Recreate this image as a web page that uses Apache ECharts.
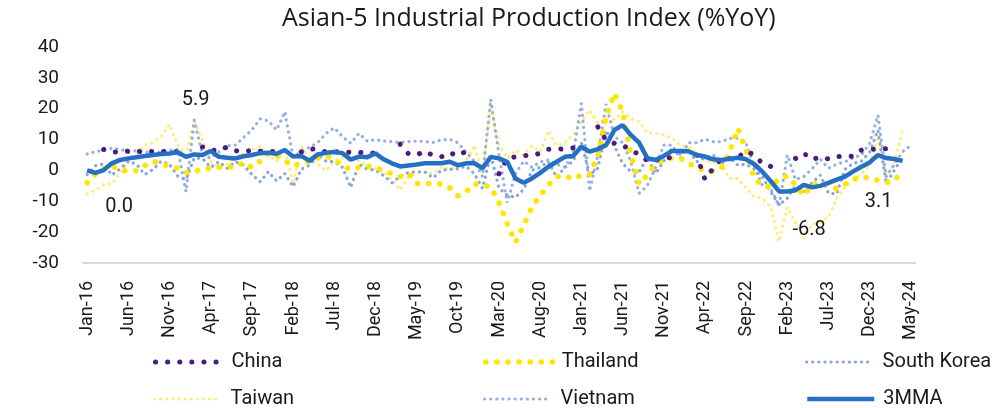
<!DOCTYPE html>
<html>
<head>
<meta charset="utf-8">
<title>Asian-5 Industrial Production Index</title>
<script src="https://cdn.jsdelivr.net/npm/echarts@6/dist/echarts.min.js"></script>
<style>
  html, body { margin: 0; padding: 0; background: #fff; }
  #main { width: 1005px; height: 408px; }
</style>
</head>
<body>
<div id="main"></div>
<script>
// month labels Jan-16 .. May-24
const monthNames = ['Jan','Feb','Mar','Apr','May','Jun','Jul','Aug','Sep','Oct','Nov','Dec'];
const months = [];
for (let i = 0; i < 101; i++) {
    months.push(monthNames[i % 12] + '-' + (16 + Math.floor(i / 12)));
}

// %YoY
const china = [
    null,null,6.8,6.0,6.0,6.2,6.0,6.3,6.1,6.1,6.2,6.0,
    null,null,7.6,6.5,6.5,7.6,6.4,6.0,6.6,6.2,6.1,6.2,
    null,null,6.0,7.0,6.8,6.0,6.0,6.1,5.8,5.9,5.4,5.7,
    null,null,8.5,5.4,5.0,6.3,4.8,4.4,5.8,4.7,6.2,6.9,
    null,null,-1.1,3.9,4.4,4.8,4.8,5.6,6.9,6.9,7.0,7.3,
    null,null,14.1,9.8,8.8,8.3,6.4,5.3,3.1,3.5,3.8,4.3,
    null,null,5.0,-2.9,0.7,3.9,3.8,4.2,6.3,5.0,2.2,1.3,
    null,null,3.9,5.6,3.5,4.4,3.7,4.5,4.5,4.6,6.6,6.8,
    7.0,7.0,null,null,null
];
const thailand = [
    -4.0,-1.2,0.5,1.5,0.2,-0.3,-0.1,1.5,3.0,2.2,1.4,0.7,
    -0.7,-0.4,0.4,0.7,1.0,1.0,1.2,2.6,1.0,3.0,5.5,5.0,
    3.2,1.4,2.2,3.0,4.0,4.7,3.8,1.5,0.3,1.0,1.4,1.0,
    -0.2,-1.0,-2.0,-1.0,-4.2,-4.2,-4.3,-4.4,-5.6,-8.2,-6.9,-4.4,
    -4.8,-5.3,-10.5,-17.2,-23.3,-17.8,-11.8,-8.2,-4.7,-2.0,-1.7,-2.8,
    -1.5,-1.3,5.0,17.4,25.0,19.0,5.0,-4.4,-1.5,2.0,3.6,4.0,
    4.0,2.4,0.8,0.0,-0.3,0.8,6.0,13.6,6.5,-2.8,-4.9,-5.5,
    -2.5,-1.8,-4.7,-8.2,-4.5,-4.2,-4.5,-6.0,-4.5,-3.0,-2.0,-2.5,
    -3.2,-3.9,-3.4,0.3,null
];
const southKorea = [
    -1.3,1.5,2.1,-1.5,0.5,3.0,2.0,-1.3,0.3,3.0,2.0,-1.8,
    -3.0,4.0,3.9,1.0,2.8,0.7,2.8,1.7,-1.3,-3.7,-0.4,-3.4,
    -1.0,-5.3,0.4,1.7,5.0,3.0,2.8,1.0,-5.5,2.0,0.4,0.1,
    -1.7,-4.0,-2.0,-0.7,-0.4,-0.5,-2.4,0.1,0.3,0.5,1.4,-1.0,
    -5.8,5.0,-5.8,-8.0,-8.7,-6.1,0.0,1.0,2.8,-2.2,1.0,3.0,
    9.0,-1.5,0.7,13.0,8.0,2.3,-0.4,-0.5,4.2,-1.0,3.0,7.2,
    5.3,6.6,2.8,4.2,5.0,2.3,4.0,1.7,2.0,0.4,-2.2,-6.9,
    -11.2,-9.0,-5.0,-7.0,-4.0,-1.5,-7.4,-7.6,0.4,2.3,3.0,6.0,
    13.0,-4.2,0.1,4.5,null
];
const taiwan = [
    -7.6,-6.4,-4.7,-4.3,-1.0,2.8,5.5,8.2,9.0,11.0,14.9,8.2,
    5.0,16.0,9.9,3.0,1.0,2.0,4.0,5.5,6.5,7.9,5.0,3.0,
    7.2,-4.5,7.7,4.0,2.0,-0.1,3.0,4.0,5.0,3.0,1.7,0.5,
    -0.5,-3.0,-6.4,-2.0,-1.0,-0.5,-1.0,1.0,0.5,1.0,3.0,8.2,
    -1.0,21.0,8.2,4.0,6.6,5.0,8.0,6.0,12.9,8.0,9.0,11.5,
    15.8,19.6,15.3,17.0,16.5,19.0,16.9,15.8,12.2,12.0,11.5,10.5,
    8.2,7.5,6.0,3.0,2.8,2.0,-2.6,-2.6,-5.8,-8.5,-9.0,-12.0,
    -23.1,-12.0,-17.0,-22.0,-17.5,-17.0,-15.0,-9.0,-5.5,-3.1,-1.0,1.5,
    11.0,-2.0,2.5,13.1,null
];
const vietnam = [
    5.3,6.1,6.5,7.2,6.8,6.2,6.4,6.0,5.5,6.0,6.5,6.8,
    -6.9,16.3,5.0,4.0,6.0,8.0,8.2,10.7,13.1,16.7,16.1,13.1,
    19.0,4.5,6.0,7.5,9.0,12.0,13.8,11.0,8.8,12.0,9.5,10.0,
    9.5,9.3,9.1,9.3,9.5,9.3,9.1,9.9,10.1,9.0,6.0,3.0,
    -2.0,23.0,5.0,-10.5,-1.0,3.0,1.0,2.8,3.4,2.0,1.0,5.3,
    21.7,-6.7,5.0,21.5,11.0,9.0,3.0,-7.4,-5.0,1.0,8.2,8.2,
    3.9,9.0,9.0,10.1,9.3,9.3,10.4,10.4,8.8,1.0,-5.0,-6.0,
    -11.5,5.0,-3.0,-2.0,0.5,3.6,0.7,2.0,2.8,4.1,5.0,8.8,
    17.9,-2.0,2.0,6.0,8.2
];
const mma3 = [
    0.0,-0.8,0.1,2.3,3.4,3.9,4.3,4.7,5.0,5.3,5.5,5.9,
    4.4,5.2,5.0,6.3,4.4,4.1,3.9,4.6,5.0,5.6,5.7,5.4,
    6.6,4.5,4.7,3.1,5.2,5.7,6.0,5.6,3.5,4.5,4.3,5.5,
    3.6,2.3,1.3,1.6,1.9,2.3,2.3,2.3,2.8,1.7,2.3,2.4,
    0.7,4.4,3.9,2.8,-2.6,-4.0,-2.6,-0.8,1.2,2.8,4.4,4.7,
    7.7,6.1,6.9,8.2,13.1,14.7,11.5,9.0,4.0,3.4,4.7,6.3,
    6.3,6.2,5.0,4.5,3.6,3.4,3.8,4.1,3.6,2.0,-0.5,-3.5,
    -6.8,-6.8,-6.4,-4.7,-5.5,-5.0,-4.0,-3.0,-2.0,-0.3,1.2,2.6,
    5.0,4.0,3.7,3.1,null
];

// points of the 3MMA that carry a data label
const labelIdx = [0, 11, 84, 99];
const labelOffset = { 0: [32, 37], 11: [18, -52], 84: [30, 39], 99: [-24, 41] };

const chart = echarts.init(document.getElementById('main'));
const FONT = 'Roboto, "Noto Sans", sans-serif';

function dotted(name, data, color, width, gap, z) {
    return {
        name: name,
        type: 'line',
        data: data,
        symbol: 'none',
        z: z,
        lineStyle: { color: color, width: width, type: [0.1, gap], cap: 'round' },
        itemStyle: { color: color }
    };
}

// one legend per entry so the 3 x 2 grid sits where the original has it
function legendItem(name, left, top) {
    return {
        left: left,
        top: top,
        itemWidth: 67,
        itemHeight: 6,
        data: [name],
        itemStyle: { opacity: 0 },
        lineStyle: { width: 'inherit' },
        textStyle: { fontFamily: FONT, fontSize: 20, color: '#1a1a1a', padding: [0, 0, 0, 4] }
    };
}

const option = {
    animation: false,
    title: {
        text: 'Asian-5 Industrial Production Index (%YoY)',
        left: 277,
        top: 1,
        textStyle: { fontFamily: '"Open Sans", Roboto, sans-serif', fontSize: 25, fontWeight: 'normal', color: '#1a1a1a' }
    },
    legend: [
        legendItem('China', 148, 347),
        legendItem('Thailand', 478, 347),
        legendItem('South Korea', 800, 347),
        legendItem('Taiwan', 148, 384),
        legendItem('Vietnam', 478, 384),
        legendItem('3MMA', 800, 384)
    ],
    grid: { left: 83, right: 90, top: 47, bottom: 145 },
    xAxis: [{
        type: 'category',
        data: months,
        boundaryGap: true,
        axisLine: { show: false },
        axisTick: { show: false },
        axisLabel: {
            interval: 4,
            rotate: 90,
            margin: 18,
            fontFamily: FONT,
            fontSize: 18,
            color: '#1a1a1a'
        }
    }, {
        type: 'category',
        data: months,
        boundaryGap: true,
        position: 'bottom',
        axisLine: { onZero: true, lineStyle: { color: '#d9d9d9', width: 2 } },
        axisTick: { show: false },
        axisLabel: { show: false }
    }],
    yAxis: {
        type: 'value',
        min: -30,
        max: 40,
        interval: 10,
        axisLine: { show: false },
        axisTick: { show: false },
        splitLine: { show: false },
        axisLabel: { margin: 24, fontFamily: FONT, fontSize: 19, color: '#1a1a1a' }
    },
    series: [
        dotted('Taiwan', taiwan, '#FFEC7A', 3.2, 6, 2),
        dotted('Vietnam', vietnam, '#94B0E0', 3.2, 6, 2),
        dotted('South Korea', southKorea, '#86A5DA', 3.2, 6, 2),
        dotted('Thailand', thailand, '#FFE500', 5.5, 11, 3),
        dotted('China', china, '#4B1C7E', 5, 12, 3),
        {
            name: '3MMA',
            type: 'line',
            data: mma3,
            symbol: 'none',
            z: 5,
            lineStyle: { color: '#2570C5', width: 4.5 },
            itemStyle: { color: '#2570C5' },
            markPoint: {
                symbol: 'circle',
                symbolSize: 0,
                label: {
                    show: true,
                    position: 'inside',
                    fontFamily: FONT,
                    fontSize: 20,
                    color: '#1a1a1a',
                    formatter: p => p.value.toFixed(1)
                },
                data: labelIdx.map(i => ({
                    coord: [i, mma3[i]],
                    value: mma3[i],
                    label: { offset: labelOffset[i] }
                }))
            }
        }
    ]
};

chart.setOption(option);
</script>
</body>
</html>
